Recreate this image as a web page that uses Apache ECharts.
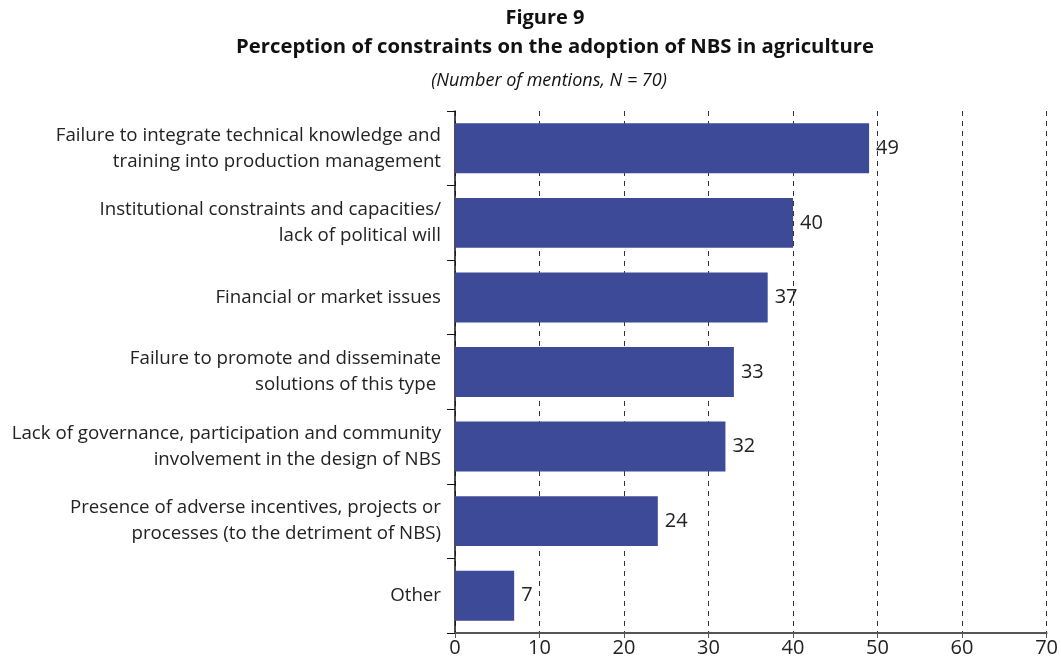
<!DOCTYPE html>
<html>
<head>
<meta charset="utf-8">
<script src="https://cdn.jsdelivr.net/npm/echarts@6/dist/echarts.min.js"></script>
<style>
  html, body { margin: 0; padding: 0; background: #fff; }
  #chart { width: 1061px; height: 664px; }
</style>
</head>
<body>
<div id="chart"></div>
<script>
// categories, top to bottom
const categories = [
    'Failure to integrate technical knowledge and\ntraining into production management',
    'Institutional constraints and capacities/\nlack of political will',
    'Financial or market issues',
    'Failure to promote and disseminate\nsolutions of this type ',
    'Lack of governance, participation and community\ninvolvement in the design of NBS',
    'Presence of adverse incentives, projects or\nprocesses (to the detriment of NBS)',
    'Other'
];
const mentions = [49, 40, 37, 33, 32, 24, 7];
const xTicks = [0, 10, 20, 30, 40, 50, 60, 70];

const font = '"Open Sans", "Noto Sans", sans-serif';

let chart = echarts.init(document.getElementById('chart'), null, { renderer: 'canvas' });
let option = {
    animation: false,
    textStyle: { fontFamily: font },
    title: [
        {
            text: 'Figure 9',
            left: 540, top: 3, textAlign: 'center',
            textStyle: { fontFamily: font, fontSize: 20, fontWeight: 'bold', color: '#111' }
        },
        {
            text: 'Perception of constraints on the adoption of NBS in agriculture',
            left: 550, top: 32, textAlign: 'center',
            textStyle: { fontFamily: font, fontSize: 20.3, fontWeight: 'bold', color: '#111' }
        },
        {
            text: '(Number of mentions, N = 70)',
            left: 544, top: 67, textAlign: 'center',
            textStyle: { fontFamily: font, fontSize: 18, fontStyle: 'italic', fontWeight: 'normal', color: '#111' }
        }
    ],
    grid: { left: 455, right: 13, top: 111, bottom: 31, containLabel: false },
    xAxis: {
        type: 'value',
        min: xTicks[0],
        max: xTicks[xTicks.length - 1],
        interval: 10,
        axisLine: { show: true, lineStyle: { color: '#555', width: 2 } },
        axisTick: { show: true, length: 5, lineStyle: { color: '#555', width: 1 } },
        axisLabel: { fontSize: 20, color: '#222', margin: 5 },
        splitLine: { show: true, lineStyle: { color: '#333', type: [5, 5], width: 1 } }
    },
    yAxis: {
        type: 'category',
        inverse: true,
        data: categories,
        axisLine: { show: true, lineStyle: { color: '#111', width: 1.5 } },
        axisTick: { show: true, length: 8, lineStyle: { color: '#111' } },
        axisLabel: { fontSize: 18.7, color: '#222', lineHeight: 26, margin: 14, align: 'right' }
    },
    series: [{
        type: 'bar',
        data: mentions,
        barCategoryGap: '33%',
        itemStyle: { color: '#3D4A98' },
        label: {
            show: true, position: 'right', distance: 7,
            fontSize: 20, color: '#222', fontFamily: font
        }
    }]
};
chart.setOption(option);
</script>
</body>
</html>
